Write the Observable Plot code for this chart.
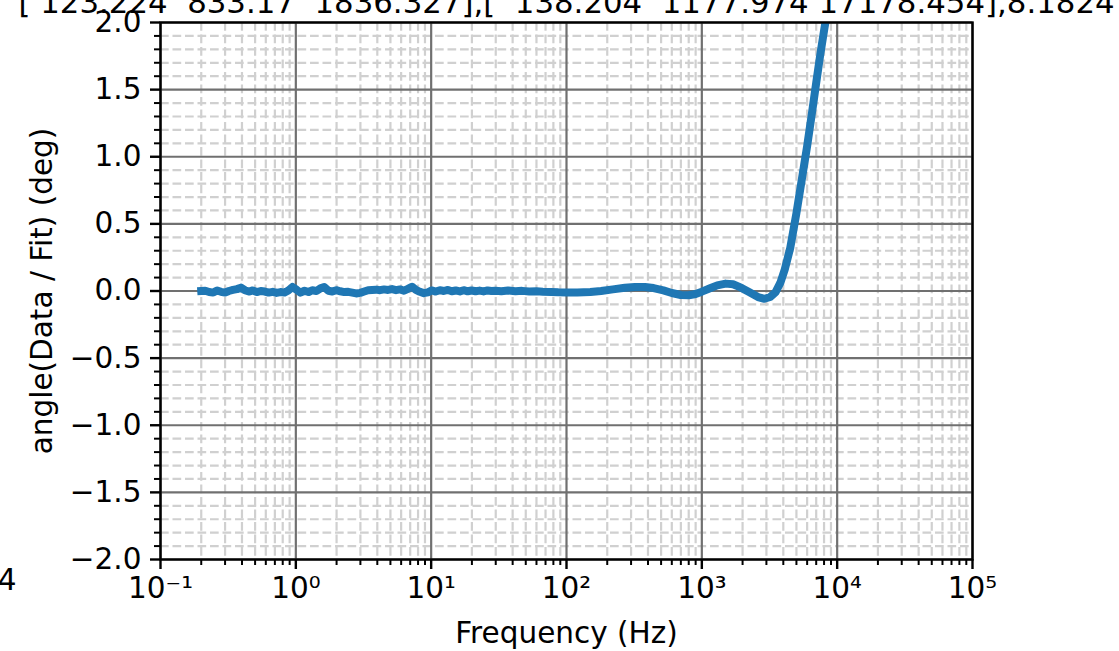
<!DOCTYPE html>
<html>
<head>
<meta charset="utf-8">
<script src="https://cdn.jsdelivr.net/npm/d3@7"></script>
<script src="https://cdn.jsdelivr.net/npm/@observablehq/plot@0.6"></script>
<style>
  html, body { margin: 0; padding: 0; background: white; overflow: hidden; }
</style>
</head>
<body>
<div id="chart"></div>
<script>
// ---- data ----
const freqs = [
  0.2, 0.214, 0.229, 0.245, 0.262, 0.28, 0.3, 0.32, 0.343, 0.367, 0.393, 0.42, 0.45, 0.48,
  0.515, 0.55, 0.59, 0.63, 0.675, 0.72, 0.77, 0.825, 0.88, 0.945, 1.01, 1.08, 1.16, 1.24,
  1.32, 1.42, 1.52, 1.62, 1.74, 1.86, 1.99, 2.13, 2.28, 2.44, 2.61, 2.79, 2.99, 3.2, 3.42,
  3.66, 3.92, 4.19, 4.49, 4.8, 5.14, 5.5, 5.88, 6.3, 6.74, 7.21, 7.71, 8.25, 8.83, 9.45,
  10.1, 10.8, 11.6, 12.4, 13.3, 14.2, 15.2, 16.3, 17.4, 18.6, 19.9, 21.3, 22.8, 24.4, 26.1,
  27.9, 29.9, 33, 37, 42, 47, 53, 60, 67, 77, 87, 100,
  120, 150, 180, 220, 270, 320, 380, 440, 520, 600, 700, 800, 900, 1000, 1150, 1300, 1500,
  1700, 1950, 2250, 2600, 2900, 3200, 3500, 3800, 4100, 4500, 5000, 5500, 6000, 6500, 7000,
  7500, 8000, 8500
];
const phaseDeg = [
  0.0, 0.002, -0.008, -0.012, 0.004, -0.006, -0.012, 0.0, 0.008, 0.014, 0.025, 0.006, -0.004, 0.004,
  -0.008, 0.0, -0.004, -0.012, -0.006, -0.014, -0.008, -0.012, 0.004, 0.03, 0.01, -0.012, 0.002, -0.008,
  0.006, 0.0, 0.02, 0.03, 0.002, -0.004, 0.006, -0.002, -0.008, -0.006, -0.012, -0.018, -0.014, -0.004, 0.006,
  0.008, 0.01, 0.006, 0.012, 0.008, 0.014, 0.006, 0.012, 0.002, 0.016, 0.032, 0.008, -0.006, -0.016, -0.01,
  0.004, -0.004, 0.006, 0.0, 0.008, -0.002, 0.004, -0.003, 0.006, -0.002, 0.004, -0.002, 0.003, -0.003, 0.004,
  0.0, 0.002, -0.002, 0.003, -0.002, 0.001, -0.003, -0.002, -0.005, -0.007, -0.01, -0.012,
  -0.012, -0.008, 0.0, 0.012, 0.024, 0.03, 0.03, 0.022, 0.005, -0.015, -0.03, -0.032, -0.022, -0.005, 0.02, 0.042, 0.055,
  0.05, 0.025, -0.01, -0.045, -0.058, -0.045, -0.01, 0.06, 0.16, 0.32, 0.58, 0.84, 1.08, 1.32, 1.55,
  1.76, 1.94, 2.1
];

const xMajor = [1e-1, 1e0, 1e1, 1e2, 1e3, 1e4, 1e5];
const xMajorLabels = ["10⁻¹", "10⁰", "10¹", "10²", "10³", "10⁴", "10⁵"];
const yMajor = [-2, -1.5, -1, -0.5, 0, 0.5, 1, 1.5, 2];
const yMajorLabels = ["−2.0", "−1.5", "−1.0", "−0.5", "0.0", "0.5", "1.0", "1.5", "2.0"];

const titleText = "[ 123.224  833.17  1836.327],[  138.204  1177.974 17178.454],8.1824";
const xLabel = "Frequency (Hz)";
const yLabel = "angle(Data / Fit) (deg)";

// ---- derived ----
const rows = freqs.map((f, i) => ({f, v: phaseDeg[i]}));
const xMinor = [];
for (const d of xMajor.slice(0, -1)) for (let k = 2; k <= 9; k++) xMinor.push(d * k);
const yMinor = d3.range(-20, 21).filter(i => i % 5 !== 0).map(i => i / 10);
const xFmt = new Map(xMajor.map((d, i) => [d, xMajorLabels[i]]));
const yFmt = new Map(yMajor.map((d, i) => [d, yMajorLabels[i]]));

const FS = 29.5;
const chart = Plot.plot({
  width: 1119,
  height: 651,
  marginLeft: 160,
  marginRight: 147,
  marginTop: 22,
  marginBottom: 92,
  style: {fontFamily: "DejaVu Sans", fontSize: FS + "px", background: "white", overflow: "visible"},
  x: {type: "log", domain: [1e-1, 1e5]},
  y: {domain: [-2, 2]},
  marks: [
    Plot.gridX({ticks: xMinor, stroke: "#d0d0d0", strokeOpacity: 1, strokeWidth: 2.2, strokeDasharray: "8.7,3.8"}),
    Plot.gridY({ticks: yMinor, stroke: "#d0d0d0", strokeOpacity: 1, strokeWidth: 2.2, strokeDasharray: "8.7,3.8"}),
    Plot.gridX({ticks: xMajor, stroke: "#707070", strokeOpacity: 1, strokeWidth: 2.2}),
    Plot.gridY({ticks: yMajor, stroke: "#707070", strokeOpacity: 1, strokeWidth: 2.2}),
    Plot.line(rows, {x: "f", y: "v", stroke: "#1f77b4", strokeWidth: 8, clip: true,
                     strokeLinecap: "square", strokeLinejoin: "round"}),
    Plot.frame({stroke: "black", strokeWidth: 2.4}),
    Plot.axisX({ticks: xMinor, tickSize: 6, strokeWidth: 2, tickFormat: () => "", label: null}),
    Plot.axisX({ticks: xMajor, tickSize: 10, tickPadding: 8, strokeWidth: 2.4,
                tickFormat: d => xFmt.get(d), fontSize: FS, label: null}),
    Plot.axisY({ticks: yMinor, tickSize: 6, strokeWidth: 2, tickFormat: () => "", label: null}),
    Plot.axisY({ticks: yMajor, tickSize: 10, tickPadding: 9, strokeWidth: 2.4,
                tickFormat: d => yFmt.get(d), fontSize: FS, label: null}),
    Plot.text([xLabel], {text: d => d, frameAnchor: "bottom", dy: 74, lineAnchor: "middle",
                         textAnchor: "middle", fontSize: FS, fill: "black"}),
    Plot.text([yLabel], {text: d => d, frameAnchor: "left", dx: -118, rotate: -90, lineAnchor: "middle",
                         textAnchor: "middle", fontSize: FS, fill: "black"}),
    Plot.text([titleText], {text: d => d, frameAnchor: "top", dy: -19, lineAnchor: "middle",
                            textAnchor: "middle", fontSize: 30.8, fill: "black"}),
    Plot.text(["4"], {text: d => d, frameAnchor: "bottom-left", dx: -144, dy: 21, textAnchor: "end",
                      lineAnchor: "middle", fontSize: FS, fill: "black"})
  ]
});
document.getElementById("chart").appendChild(chart);
</script>
</body>
</html>
